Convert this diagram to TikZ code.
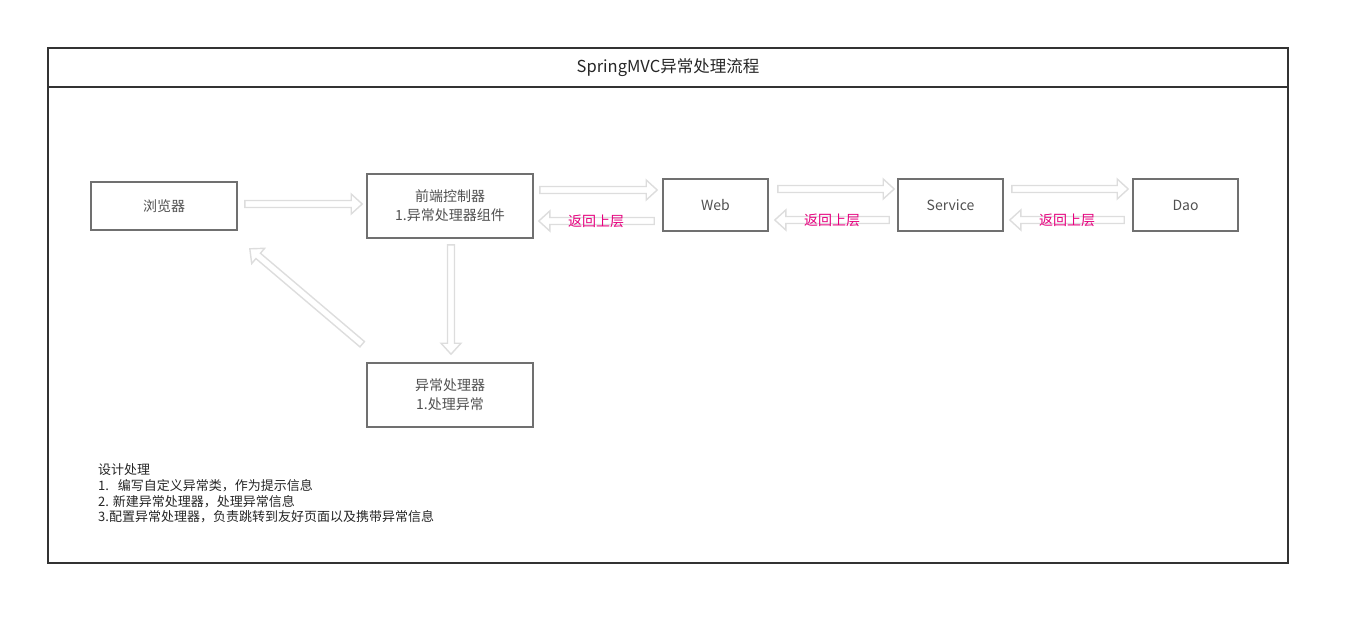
\documentclass[tikz,border=0pt]{standalone}
\usepackage{fontspec}
\setmainfont{Noto Sans CJK SC}
\usetikzlibrary{calc}
\definecolor{boxc}{HTML}{707070}
\definecolor{txtc}{HTML}{505050}
\definecolor{framec}{HTML}{333333}
\definecolor{arrc}{HTML}{DDDDDD}
\definecolor{backc}{HTML}{E6007E}
\newcommand\blockarrow[2]{%
  \draw[barrow] let \p1=($(#2)-(#1)$), \n1={atan2(\y1,\x1)}, \n2={veclen(\x1,\y1)} in
    [shift={(#1)}, rotate=\n1]
    (0pt,-3.5pt) -- (\n2-11pt,-3.5pt) -- (\n2-11pt,-10pt) -- (\n2,0pt) -- (\n2-11pt,10pt) -- (\n2-11pt,3.5pt) -- (0pt,3.5pt) -- cycle;}
\begin{document}
\begin{tikzpicture}[x=1pt,y=-1pt,
  box/.style={draw=boxc, line width=1.6pt, text=txtc, font=\fontsize{14}{19}\selectfont, align=center, inner sep=0pt},
  barrow/.style={draw=arrc, line width=1.4pt, fill=white, line join=miter},
  backlabel/.style={text=backc, font=\fontsize{14}{16}\selectfont, inner sep=0pt}]
\useasboundingbox (0,0) rectangle (1351,626);
% frame
\node[draw=framec, line width=1.6pt, minimum width=1240pt, minimum height=515pt, inner sep=0pt] (frame) at (668,305.5) {};
\draw[framec, line width=1.6pt] (frame.north west) ++(0,40) coordinate (hl) -- (hl -| frame.east);
\node[text=black!85, font=\fontsize{16.5}{20}\selectfont, inner sep=0pt] (title) at (668,68) {SpringMVC异常处理流程};
% boxes
\node[box, minimum width=146pt, minimum height=48pt] (brow) at (164,206) {浏览器};
\node[box, minimum width=166pt, minimum height=64pt] (fc) at (450,206) {前端控制器\\1.异常处理器组件};
\node[box, minimum width=105pt, minimum height=52pt] (web) at (715.5,205) {Web};
\node[box, minimum width=105pt, minimum height=52pt] (svc) at (950.5,205) {Service};
\node[box, minimum width=105pt, minimum height=52pt] (dao) at (1185.5,205) {Dao};
\node[box, minimum width=166pt, minimum height=64pt] (exh) at (450,395) {异常处理器\\1.处理异常};
% arrows
\blockarrow{$(brow.east)+(7,-2)$}{$(fc.west)+(-4,-2)$}
\blockarrow{$(fc.east)+(6,-16)$}{$(web.west)+(-5,-15)$}
\blockarrow{$(web.west)+(-8,16)$}{$(fc.east)+(5,15)$}
\blockarrow{$(web.east)+(9,-16)$}{$(svc.west)+(-3,-16)$}
\blockarrow{$(svc.west)+(-8,15)$}{$(web.east)+(6,15)$}
\blockarrow{$(svc.east)+(8,-16)$}{$(dao.west)+(-4,-16)$}
\blockarrow{$(dao.west)+(-8,15)$}{$(svc.east)+(6,15)$}
\blockarrow{$(fc.south)+(1,6)$}{$(exh.north)+(1,-8)$}
\blockarrow{$(exh.north west)+(-4,-18)$}{$(brow.south east)+(12,18)$}
% labels
\node[backlabel] (b1) at (596,221) {返回上层};
\node[backlabel] (b2) at (832,220) {返回上层};
\node[backlabel] (b3) at (1067,220) {返回上层};
% notes
\node[anchor=north west, align=left, inner sep=0pt, text=black!85, font=\fontsize{13}{15.7}\selectfont] (notes) at (98,463.5)
  {设计处理\\1.\ \ \ 编写自定义异常类，作为提示信息\\2. 新建异常处理器，处理异常信息\\3.配置异常处理器，负责跳转到友好页面以及携带异常信息};
\end{tikzpicture}
\end{document}
